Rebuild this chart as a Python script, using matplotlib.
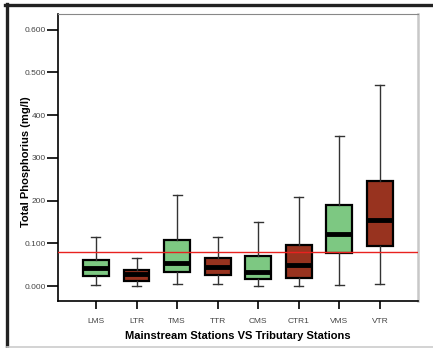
import matplotlib
matplotlib.use("Agg")
import matplotlib.pyplot as plt
from matplotlib.lines import Line2D

plt.rcParams["font.family"] = ["Liberation Sans", "DejaVu Sans"]

# ============================================================
# Data (mg/l)
# ============================================================
stations = ["LMS", "LTR", "TMS", "TTR", "CMS", "CTR1", "VMS", "VTR"]
whisker_low = [0.002, 0.000, 0.005, 0.004, 0.000, 0.000, 0.002, 0.006]
q1 = [0.023, 0.012, 0.033, 0.027, 0.016, 0.019, 0.078, 0.094]
medians = [0.043, 0.029, 0.055, 0.045, 0.034, 0.050, 0.122, 0.155]
q3 = [0.062, 0.037, 0.108, 0.066, 0.070, 0.095, 0.190, 0.247]
whisker_high = [0.114, 0.065, 0.214, 0.115, 0.149, 0.208, 0.352, 0.471]
station_type = ["main", "trib", "main", "trib", "main", "trib", "main", "trib"]
guideline = 0.08

ytick_vals = [0.0, 0.1, 0.2, 0.3, 0.4, 0.5, 0.6]
ytick_labels = ["0.000", "0.100", "200", "300", "400", "0.500", "0.600"]

colors = {"main": "#7dc882", "trib": "#98331f"}

# ============================================================
# Plot
# ============================================================
fig = plt.figure(figsize=(4.33, 3.48), dpi=100)
ax = fig.add_axes([0.134, 0.135, 0.831, 0.825])

stats = []
for i, name in enumerate(stations):
    stats.append({
        "label": name,
        "whislo": whisker_low[i],
        "q1": q1[i],
        "med": medians[i],
        "q3": q3[i],
        "whishi": whisker_high[i],
        "fliers": [],
    })

positions = list(range(1, len(stations) + 1))
bp = ax.bxp(
    stats,
    positions=positions,
    widths=0.64,
    patch_artist=True,
    showfliers=False,
    boxprops=dict(edgecolor="black", linewidth=1.6),
    medianprops=dict(color="black", linewidth=3.5, solid_capstyle="butt"),
    whiskerprops=dict(color="#333333", linewidth=1.0),
    capprops=dict(color="#333333", linewidth=1.0),
    capwidths=0.22,
)
for patch, kind in zip(bp["boxes"], station_type):
    patch.set_facecolor(colors[kind])

ax.axhline(guideline, color="#e8221f", linewidth=1.0, zorder=5)

ax.set_xlim(0.065, 8.935)
ax.set_ylim(-0.035, 0.637)
ax.set_yticks(ytick_vals)
ax.set_yticklabels(ytick_labels)
ax.set_xticks(positions)
ax.set_xticklabels(stations)

ax.tick_params(axis="y", length=8, width=1.2, labelsize=6, labelcolor="#444444", pad=1)
ax.tick_params(axis="x", length=6, width=1.2, labelsize=6, labelcolor="#444444", pad=6)

for side in ["left", "bottom"]:
    ax.spines[side].set_linewidth(1.2)
    ax.spines[side].set_color("black")
ax.spines["top"].set_color("#888888")
ax.spines["top"].set_linewidth(0.8)
ax.spines["right"].set_color("#c8c8c8")
ax.spines["right"].set_linewidth(1.8)

ax.set_xlabel("Mainstream Stations VS Tributary Stations", fontsize=8, fontweight="bold")
ax.xaxis.set_label_coords(0.5, -0.105)
ax.set_ylabel("Total Phosphorius (mg/l)", fontsize=8, fontweight="bold")
ax.yaxis.set_label_coords(-0.076, 0.484)

# outer frame
fig.add_artist(Line2D([6.5 / 433, 6.5 / 433], [0, 1 - 4 / 348], transform=fig.transFigure,
                      color="#222222", linewidth=2.4))
fig.add_artist(Line2D([5 / 433, 1], [1 - 5.3 / 348, 1 - 5.3 / 348], transform=fig.transFigure,
                      color="#222222", linewidth=2.4))
fig.add_artist(Line2D([7 / 433, 1], [1.5 / 348, 1.5 / 348], transform=fig.transFigure,
                      color="#cccccc", linewidth=1.2))

fig.savefig("out.png", dpi=100)
